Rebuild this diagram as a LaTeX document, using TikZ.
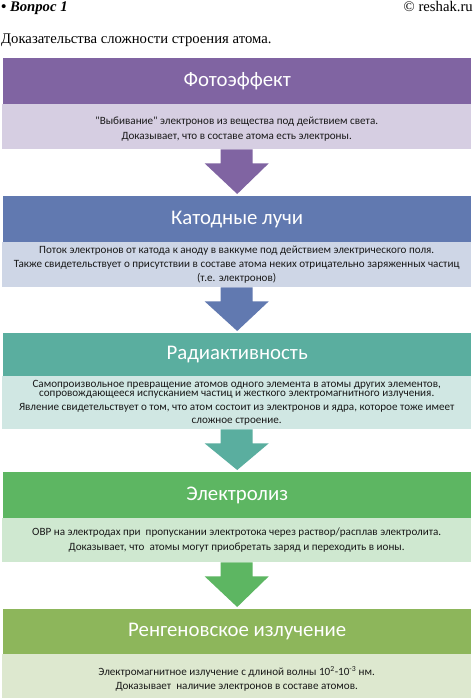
\documentclass[tikz,border=0pt]{standalone}
\usepackage{fontspec}
\setmainfont{Liberation Serif}
\newfontfamily\calfont{Carlito}
\usetikzlibrary{calc}
\definecolor{hPurple}{RGB}{128,100,162}
\definecolor{bPurple}{RGB}{214,206,226}
\definecolor{hBlue}{RGB}{97,121,176}
\definecolor{bBlue}{RGB}{206,214,230}
\definecolor{hTeal}{RGB}{90,174,159}
\definecolor{bTeal}{RGB}{208,231,227}
\definecolor{hGreen}{RGB}{93,182,98}
\definecolor{bGreen}{RGB}{207,232,208}
\definecolor{hOlive}{RGB}{141,182,91}
\definecolor{bOlive}{RGB}{221,232,207}
\definecolor{bodytext}{RGB}{25,25,25}
\newcommand\flowarrow[3]{%
  \fill[#3] ($(#1.south)+(-16,0)$) -- ($(#1.south)+(-16,14)$) -- ($(#1.south)+(-32,14)$)
    -- ($(#2.north)+(0,-2)$) -- ($(#1.south)+(32,14)$) -- ($(#1.south)+(16,14)$)
    -- ($(#1.south)+(16,0)$) -- cycle;}
\begin{document}
\begin{tikzpicture}[x=1pt,y=-1pt,
  pagetext/.style={inner sep=0pt, font=\fontsize{14.7}{16}\selectfont},
  headbox/.style={fill=#1, text=white, minimum width=468pt, minimum height=46pt,
    inner sep=0pt, anchor=north west, font=\calfont\fontsize{20.8}{24}\selectfont},
  bodybox/.style={fill=#1, text=bodytext, minimum width=469pt, minimum height=45pt,
    inner sep=0pt, anchor=north west, align=center,
    font=\calfont\fontsize{11.1}{14.7}\selectfont}]
\useasboundingbox (0,0) rectangle (474,698);
\fill[white] (0,0) rectangle (474,698);

\node[pagetext, anchor=base west, font=\fontsize{14.7}{16}\selectfont\bfseries\itshape] (q) at (1,11.5) {• Вопрос 1};
\node[pagetext, anchor=base east] (site) at (473,11.5) {© reshak.ru};
\node[pagetext, anchor=base west] (title) at (1,44) {Доказательства сложности строения атома.};

% box 1
\node[headbox=hPurple] (h1) at (3,58) {Фотоэффект};
\node[bodybox=bPurple] (b1) at (2,104) {\rule{0pt}{12pt}"Выбивание" электронов из вещества под действием света.\\
Доказывает, что в составе атома есть электроны.};

% box 2
\node[headbox=hBlue] (h2) at (3,196) {Катодные лучи};
\node[bodybox=bBlue, font=\calfont\fontsize{11.1}{13.8}\selectfont] (b2) at (2,242) {Поток электронов от катода к аноду в ваккуме под действием электрического поля.\\
Также свидетельствует о присутствии в составе атома неких отрицательно заряженных частиц\\
(т.е. электронов)};

% box 3
\node[headbox=hTeal, minimum height=43pt] (h3) at (3,333) {Радиактивность};
\node[bodybox=bTeal, minimum height=53pt, font=\calfont\fontsize{11.1}{13.3}\selectfont] (b3) at (2,376) {Самопроизвольное превращение атомов одного элемента в атомы других элементов,\\[-3.6pt]
сопровождающееся испусканием частиц и жесткого электромагнитного излучения.\\
Явление свидетельствует о том, что атом состоит из электронов и ядра, которое тоже имеет\\
сложное строение.};

% box 4
\node[headbox=hGreen] (h4) at (3,472) {Электролиз};
\node[bodybox=bGreen, minimum height=44pt, font=\calfont\fontsize{11.1}{15.5}\selectfont] (b4) at (2,518) {ОВР на электродах при\ \ пропускании электротока через раствор/расплав электролита.\\
Доказывает, что\ \ атомы могут приобретать заряд и переходить в ионы.};

% box 5
\node[headbox=hOlive, minimum height=45pt] (h5) at (3,609) {Ренгеновское излучение};
\node[bodybox=bOlive, minimum height=44pt, font=\calfont\fontsize{11.1}{13.5}\selectfont] (b5) at (2,654) {\rule{0pt}{14pt}Электромагнитное излучение с длиной волны 10\textsuperscript{2}-10\textsuperscript{-3} нм.\\
Доказывает\ \ наличие электронов в составе атомов.};

% arrows
\flowarrow{b1}{h2}{hPurple}
\flowarrow{b2}{h3}{hBlue}
\flowarrow{b3}{h4}{hTeal}
\flowarrow{b4}{h5}{hGreen}
\end{tikzpicture}
\end{document}
